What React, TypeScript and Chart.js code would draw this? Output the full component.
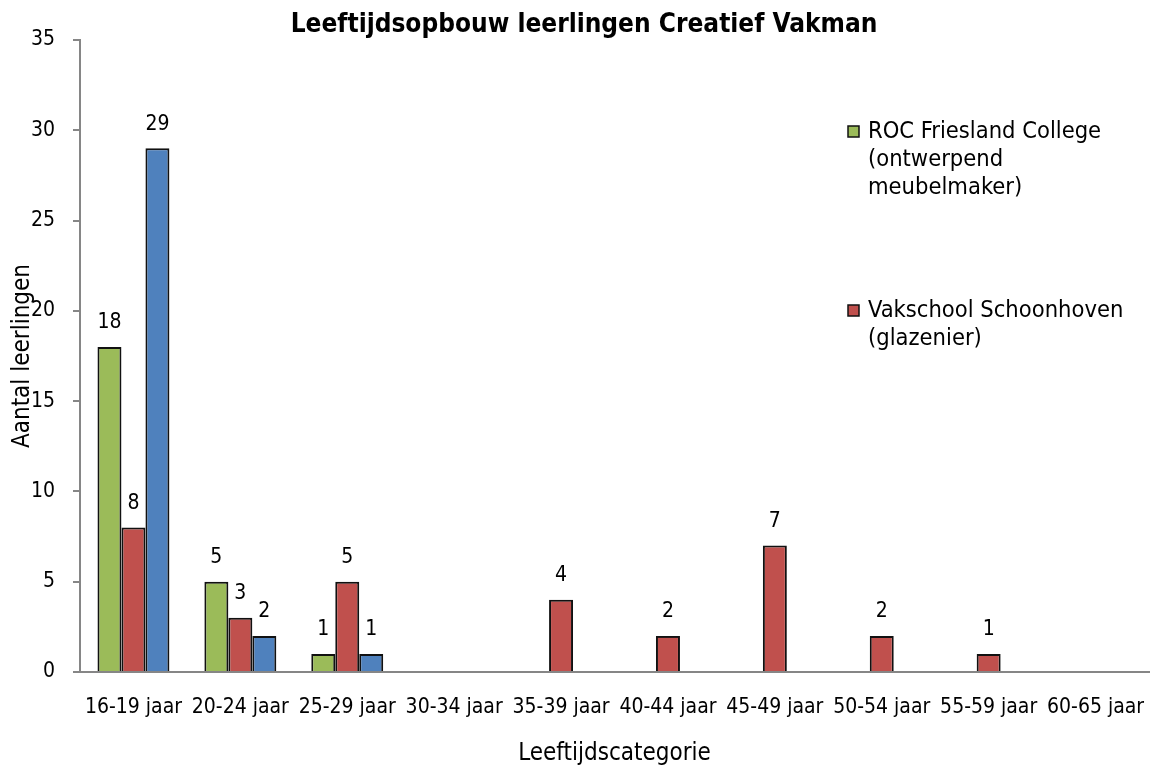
import React, { useEffect, useRef } from "react";
import { Chart, registerables } from "chart.js";

Chart.register(...registerables);

const categories = [
  "16-19 jaar",
  "20-24 jaar",
  "25-29 jaar",
  "30-34 jaar",
  "35-39 jaar",
  "40-44 jaar",
  "45-49 jaar",
  "50-54 jaar",
  "55-59 jaar",
  "60-65 jaar",
];

const rocFriesland = [18, 5, 1, null, null, null, null, null, null, null];
const vakschool = [8, 3, 5, null, 4, 2, 7, 2, 1, null];
const thirdSeries = [29, 2, 1, null, null, null, null, null, null, null];

const legendEntries = [
  { color: "#9BBB59", lines: ["ROC Friesland College", "(ontwerpend", "meubelmaker)"] },
  { color: "#C0504D", lines: ["Vakschool Schoonhoven", "(glazenier)"] },
];

const chartTitle = "Leeftijdsopbouw leerlingen Creatief Vakman";
const yTitle = "Aantal leerlingen";
const xTitle = "Leeftijdscategorie";

const FONT = "'DejaVu Sans Condensed', 'DejaVu Sans', sans-serif";
const AXIS = "#868686";

const overlayPlugin = {
  id: "overlay",
  afterDatasetsDraw(chart: any) {
    const ctx = chart.ctx;
    ctx.save();
    ctx.fillStyle = "#000";
    ctx.font = `21px ${FONT}`;
    ctx.textAlign = "center";
    ctx.textBaseline = "middle";
    chart.data.datasets.forEach((ds: any, di: number) => {
      const meta = chart.getDatasetMeta(di);
      meta.data.forEach((el: any, i: number) => {
        const v = ds.data[i];
        if (v === null || v === undefined) return;
        ctx.fillText(String(v), el.x, el.y - 24);
      });
    });
    ctx.restore();
  },
  afterDraw(chart: any) {
    const ctx = chart.ctx;
    ctx.save();
    // title
    ctx.fillStyle = "#000";
    ctx.font = `bold 26px ${FONT}`;
    ctx.textAlign = "center";
    ctx.textBaseline = "middle";
    ctx.fillText(chartTitle, 584, 25);
    // legend
    ctx.font = `23.5px ${FONT}`;
    ctx.textAlign = "left";
    const starts = [132, 311];
    legendEntries.forEach((e, k) => {
      const y0 = starts[k];
      ctx.fillStyle = e.color;
      ctx.fillRect(848, y0 - 6, 11, 11);
      ctx.strokeStyle = "#111";
      ctx.lineWidth = 1.5;
      ctx.strokeRect(848, y0 - 6, 11, 11);
      ctx.fillStyle = "#000";
      e.lines.forEach((t, j) => ctx.fillText(t, 868, y0 + j * 28));
    });
    ctx.restore();
  },
};

export default function App() {
  const ref = useRef<HTMLCanvasElement>(null);
  useEffect(() => {
    document.body.style.margin = "0";
    const chart = new Chart(ref.current!, {
      type: "bar",
      data: {
        labels: categories,
        datasets: [
          {
            label: "ROC Friesland College (ontwerpend meubelmaker)",
            data: rocFriesland,
            backgroundColor: "#9BBB59",
            borderColor: "#111",
            borderWidth: 2,
          },
          {
            label: "Vakschool Schoonhoven (glazenier)",
            data: vakschool,
            backgroundColor: "#C0504D",
            borderColor: "#111",
            borderWidth: 2,
          },
          {
            label: "",
            data: thirdSeries,
            backgroundColor: "#4F81BD",
            borderColor: "#111",
            borderWidth: 2,
          },
        ],
      },
      options: {
        responsive: false,
        animation: false,
        devicePixelRatio: 1,
        layout: { padding: { top: 40, left: 0, right: 1, bottom: 0 } },
        plugins: {
          legend: { display: false },
          title: { display: false },
          tooltip: { enabled: false },
        },
        datasets: { bar: { categoryPercentage: 0.673, barPercentage: 1 } },
        scales: {
          x: {
            grid: { display: false, drawTicks: false },
            border: { display: true, color: AXIS, width: 2 },
            ticks: { color: "#000", font: { family: FONT, size: 21, lineHeight: 3 }, padding: 4, maxRotation: 0, autoSkip: false },
            title: { display: true, text: xTitle, color: "#000", font: { family: FONT, size: 24 }, padding: { top: 0, bottom: 1 } },
            afterFit: (s: any) => { s.height = 97; },
          },
          y: {
            min: 0,
            max: 35,
            ticks: { stepSize: 5, color: "#000", font: { family: FONT, size: 21 }, padding: 18 },
            grid: { display: true, drawOnChartArea: false, drawTicks: true, tickLength: 7, color: AXIS, lineWidth: 2 },
            border: { display: true, color: AXIS, width: 2 },
            title: { display: true, text: yTitle, color: "#000", font: { family: FONT, size: 24 }, padding: { top: 8, bottom: 0 } },
            afterFit: (s: any) => { s.width = 80; },
          },
        },
      },
      plugins: [overlayPlugin],
    });
    return () => chart.destroy();
  }, []);
  return (
    <div style={{ width: 1150, height: 769 }}>
      <canvas ref={ref} width={1150} height={769} style={{ display: "block" }} />
    </div>
  );
}
